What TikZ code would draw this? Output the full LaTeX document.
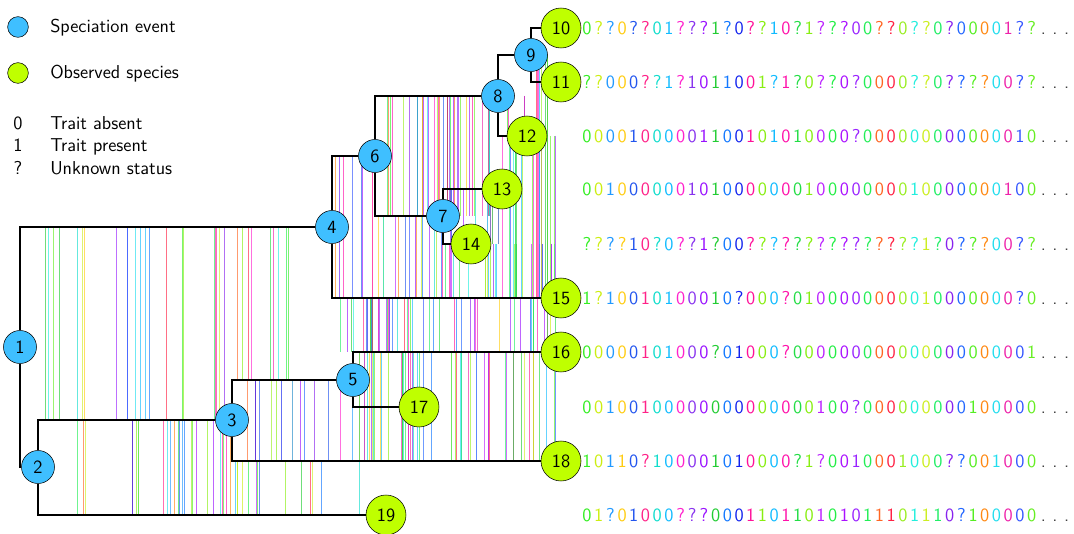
\documentclass[tikz,border=0pt]{standalone}
\usepackage{tikz}
\usetikzlibrary{backgrounds}
\newcommand{\lblfont}{\fontsize{14}{16}\selectfont\sffamily}
\definecolor{specblue}{HTML}{3FBFFF}
\definecolor{obsgreen}{HTML}{BFFF00}
% one colour per trait column
\definecolor{tc1}{HTML}{33EE22}\definecolor{tc2}{HTML}{CCEE11}\definecolor{tc3}{HTML}{2299FF}
\definecolor{tc4}{HTML}{FFCC11}\definecolor{tc5}{HTML}{2255EE}\definecolor{tc6}{HTML}{FF2288}
\definecolor{tc7}{HTML}{11DDCC}\definecolor{tc8}{HTML}{11BBFF}\definecolor{tc9}{HTML}{FF22CC}
\definecolor{tc10}{HTML}{8833EE}\definecolor{tc11}{HTML}{9911FF}\definecolor{tc12}{HTML}{22CC33}
\definecolor{tc13}{HTML}{1177FF}\definecolor{tc14}{HTML}{1122EE}\definecolor{tc15}{HTML}{FF1199}
\definecolor{tc16}{HTML}{88EE11}\definecolor{tc17}{HTML}{11BBFF}\definecolor{tc18}{HTML}{FF11AA}
\definecolor{tc19}{HTML}{22DD44}\definecolor{tc20}{HTML}{88EE11}\definecolor{tc21}{HTML}{BB22FF}
\definecolor{tc22}{HTML}{22EE44}\definecolor{tc23}{HTML}{AA11FF}\definecolor{tc24}{HTML}{9922FF}
\definecolor{tc25}{HTML}{22EE55}\definecolor{tc26}{HTML}{FF6622}\definecolor{tc27}{HTML}{FF2244}
\definecolor{tc28}{HTML}{99EE22}\definecolor{tc29}{HTML}{22EEDD}\definecolor{tc30}{HTML}{CCEE22}
\definecolor{tc31}{HTML}{22EE66}\definecolor{tc32}{HTML}{8822EE}\definecolor{tc33}{HTML}{2266FF}
\definecolor{tc34}{HTML}{55EE22}\definecolor{tc35}{HTML}{FF8811}\definecolor{tc36}{HTML}{22DDEE}
\definecolor{tc37}{HTML}{EE22AA}\definecolor{tc38}{HTML}{3355FF}\definecolor{tc39}{HTML}{66EE22}
\colorlet{tc40}{black!75}\colorlet{tc41}{black!75}\colorlet{tc42}{black!75}
\tikzset{
spec/.style={circle, draw, fill=specblue, minimum size=24.75pt, inner sep=0pt, font=\lblfont},
obs/.style={circle, draw, fill=obsgreen, minimum size=30pt, inner sep=0pt, font=\lblfont},
branch/.style={line width=1.2pt},
traitline/.style={line width=0.7pt, opacity=0.65},
traitchar/.style={inner sep=0pt, anchor=base, font=\lblfont},
keytext/.style={inner sep=0pt, anchor=base west, font=\lblfont}
}
\makeatletter
\def\trait@next#1{%
  \ifx\relax#1\else
    \pgfmathtruncatemacro\trait@i{\trait@i+1}%
    \node[traitchar, text=tc\trait@i] (\trait@row-\trait@i) at ({587+(\trait@i-1)*11.7},\trait@y+6.5) {#1};%
    \expandafter\trait@next
  \fi}
\newcommand{\traitrow}[3]{\def\trait@row{#1}\def\trait@y{#2}\def\trait@i{0}\trait@next#3...\relax}
\makeatother

\begin{document}
\begin{tikzpicture}[x=0.75pt, y=-0.75pt]
\useasboundingbox (0,0) rectangle (1074,534);
\node[spec, minimum size=15.5pt] (keyspec) at (18,27) {};
\node[obs, minimum size=15.5pt] (keyobs) at (18,73) {};
\node[keytext] (keyspectext) at (50,33) {Speciation event};
\node[keytext] (keyobstext) at (50,79) {Observed species};
\foreach \s/\t/\y [count=\k] in {0/Trait absent/130, 1/Trait present/152, ?/Unknown status/175}{
  \node[traitchar] (keysym\k) at (18,\y) {\s};
  \node[keytext] (keystate\k) at (50,\y) {\t};
}
\node[spec] (n1) at (20,347) {1};
\node[spec] (n2) at (38,467) {2};
\node[spec] (n3) at (232,420) {3};
\node[spec] (n4) at (332,227) {4};
\node[spec] (n5) at (353,380) {5};
\node[spec] (n6) at (375,156) {6};
\node[spec] (n7) at (443,216) {7};
\node[spec] (n8) at (498,96) {8};
\node[spec] (n9) at (531,55) {9};
\node[obs] (n10) at (561,28) {10};
\node[obs] (n11) at (561,82) {11};
\node[obs] (n12) at (527,136) {12};
\node[obs] (n13) at (502,189) {13};
\node[obs] (n14) at (471,244) {14};
\node[obs] (n15) at (561,298) {15};
\node[obs] (n16) at (561,352) {16};
\node[obs] (n17) at (419,407) {17};
\node[obs] (n18) at (561,461) {18};
\node[obs] (n19) at (386,515) {19};
\begin{pgfonlayer}{background}
\pgfmathsetseed{4127}
\foreach \xa/\xb/\ya/\yb/\cnt in {40/232/227/420/22, 75/232/420/515/26, 232/332/227/380/9,
  232/353/380/461/15, 232/362/461/515/14, 334/375/156/298/9, 334/558/298/352/55,
  355/558/352/461/55, 377/498/96/216/38, 377/443/216/298/16, 445/556/244/298/24,
  445/500/189/244/12, 500/556/136/298/16, 500/528/96/136/4, 533/556/55/298/8}
  \foreach \k in {1,...,\cnt}{
    \pgfmathsetmacro\xx{\xa+rnd*(\xb-\xa)}
    \pgfmathrandominteger\ci{1}{39}
    \draw[traitline, tc\ci] (\xx,\ya) -- (\xx,\yb);
  }
\foreach \a/\b in {n1/n4, n1/n2, n2/n3, n2/n19, n3/n5, n3/n18, n4/n6, n4/n15, n5/n16,
  n5/n17, n6/n8, n6/n7, n7/n13, n7/n14, n8/n9, n8/n12, n9/n10, n9/n11}
  \draw[branch] (\a) |- (\b);
\end{pgfonlayer}
\traitrow{r10}{28}{0??0? ?01?? ?1?0? ?10?1 ???00 ??0?? 0?000 01??}
\traitrow{r11}{82}{??000 ??1?1 01100 1?1?0 ??0?0 000?? 0???? 00??}
\traitrow{r12}{136}{00001 00000 11001 01010 000?0 00000 00000 0010}
\traitrow{r13}{189}{00100 00001 01000 00001 00000 00010 00000 0100}
\traitrow{r14}{244}{????1 0?0?? 1?00? ????? ????? ????1 ?0??? 00??}
\traitrow{r15}{298}{1?100 10100 010?0 00?01 00000 00001 00000 00?0}
\traitrow{r16}{352}{00000 10100 0?010 00?00 00000 00000 00000 0001}
\traitrow{r17}{407}{00100 10000 00000 00000 100?0 00000 00010 0000}
\traitrow{r18}{461}{10110 ?1000 01010 000?1 ?0010 00100 0??00 1000}
\traitrow{r19}{515}{01?01 000?? ?0001 10110 10101 11011 10?10 0000}
\end{tikzpicture}
\end{document}
